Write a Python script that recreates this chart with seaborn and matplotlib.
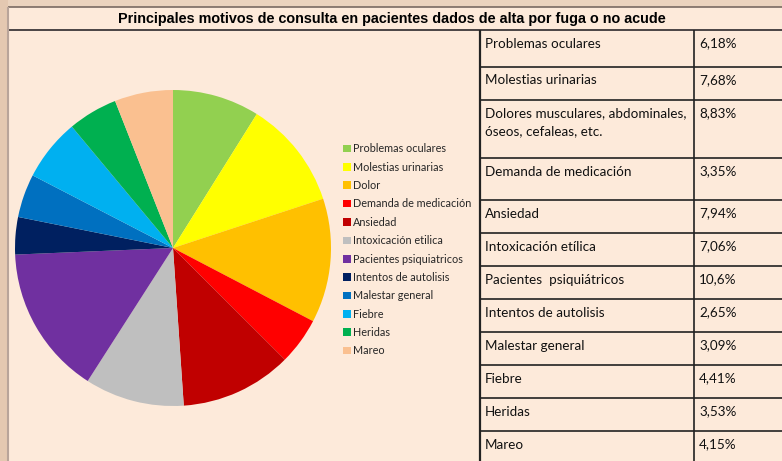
import numpy as np
import pandas as pd
import seaborn as sns
from matplotlib import pyplot as plt

# %% data
legend_labels = ['Problemas oculares', 'Molestias urinarias', 'Dolor',
                 'Demanda de medicación', 'Ansiedad', 'Intoxicación etilica',
                 'Pacientes psiquiatricos', 'Intentos de autolisis',
                 'Malestar general', 'Fiebre', 'Heridas', 'Mareo']
table_labels = ['Problemas oculares', 'Molestias urinarias',
                'Dolores musculares, abdominales,\nóseos, cefaleas, etc.',
                'Demanda de medicación', 'Ansiedad', 'Intoxicación etílica',
                'Pacientes  psiquiátricos', 'Intentos de autolisis',
                'Malestar general', 'Fiebre', 'Heridas', 'Mareo']
pct_labels = ['6,18%', '7,68%', '8,83%', '3,35%', '7,94%', '7,06%',
              '10,6%', '2,65%', '3,09%', '4,41%', '3,53%', '4,15%']
slice_colors = ['#92D050', '#FFFF00', '#FFC000', '#FF0000', '#C00000', '#BFBFBF',
                '#7030A0', '#002060', '#0070C0', '#00B0F0', '#00B050', '#FAC090']

dfData = pd.DataFrame({'Motivo': legend_labels,
                       'Tabla': table_labels,
                       'Texto': pct_labels})
dfData['Pct'] = [float(s.strip('%').replace(',', '.')) for s in pct_labels]

# row borders of the table (pixels from top)
row_edges = [30, 67, 100, 158, 200, 233, 266, 299, 332, 365, 398, 431, 461]

sns.set_theme(style='white')
plt.rcParams['font.family'] = ['Liberation Sans', 'DejaVu Sans']

W, H = 782, 461
bg = '#FDEADA'
fig = plt.figure(figsize=(W / 100, H / 100), dpi=100)
fig.patch.set_facecolor('#EBD3BE')

# canvas in pixel coordinates
ax = fig.add_axes([0, 0, 1, 1])
ax.set_xlim(0, W)
ax.set_ylim(H, 0)
ax.axis('off')
ax.add_patch(plt.Rectangle((7.5, 7.5), W, H, facecolor=bg, edgecolor='none'))
ax.add_patch(plt.Rectangle((0, 0), 7.5, H, facecolor='#E4C8B1', edgecolor='none'))
lc = '#4A4444'
ax.hlines([7.5], 7.5, W, color='#7A6A62', lw=1.2)
ax.hlines([30], 7.5, W, color=lc, lw=1.4)
ax.vlines([7.5], 7.5, H, color='#B8A49A', lw=1.5)
ax.text(391.5, 19, 'Principales motivos de consulta en pacientes dados de alta por fuga o no acude',
        ha='center', va='center', fontsize=10.4, fontweight='bold', color='black')

# table
ax.vlines([479.5], 30, H, color='#222222', lw=1.6)
ax.vlines([693.5], 30, H, color='#222222', lw=1.2)
ax.hlines(row_edges[1:-1], 479.5, W, color='#222222', lw=1.2)
for i, r in dfData.iterrows():
    top = row_edges[i]
    ax.text(485, top + 7.5, r.Tabla, ha='left', va='top', fontsize=9.7,
            family=['Lato', 'DejaVu Sans'], color='#111111', linespacing=1.55)
    ax.text(699, top + 7.5, r.Texto, ha='left', va='top', fontsize=9.7,
            family=['Lato', 'DejaVu Sans'], color='#111111')

# pie
cx, cy, rad = 173, 248, 158
axp = fig.add_axes([(cx - rad) / W, (H - cy - rad) / H, 2 * rad / W, 2 * rad / H])
wedges, _ = axp.pie(dfData.Pct, colors=slice_colors, startangle=90, counterclock=False,
                    wedgeprops={'linewidth': 0})
axp.set_xlim(-1, 1)
axp.set_ylim(-1, 1)
axp.set_aspect('equal')
axp.axis('off')

leg = axp.legend(wedges, dfData.Motivo, loc='upper left',
                 bbox_to_anchor=(339 / W, 1 - 139 / H), bbox_transform=fig.transFigure,
                 frameon=False, fontsize=7.8, handlelength=0.7, handleheight=0.7,
                 handletextpad=0.2, labelspacing=0.68, borderaxespad=0)
for t in leg.get_texts():
    t.set_family(['Lato', 'DejaVu Sans'])

fig.savefig('out.png', dpi=100, facecolor=fig.get_facecolor())
